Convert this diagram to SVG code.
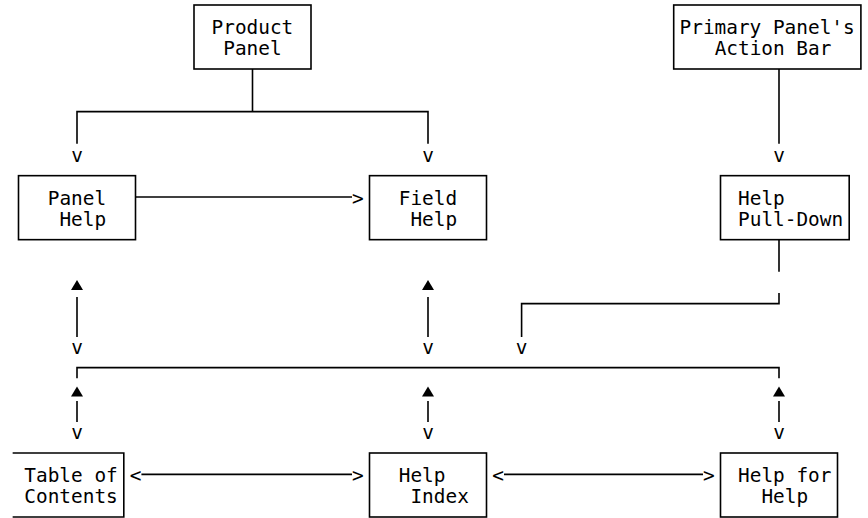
<svg xmlns="http://www.w3.org/2000/svg" width="868" height="518" viewBox="0 0 868 518">
<style>
.b{fill:none;stroke:#000;stroke-width:1.6}
.l{fill:none;stroke:#000;stroke-width:1.6}
.t{font-family:"DejaVu Sans Mono","Liberation Mono",monospace;font-size:19.4px;fill:#000}
.c{font-family:"DejaVu Sans Mono","Liberation Mono",monospace;font-size:19.4px;fill:#000;text-anchor:middle}
</style>
<defs>
<path id="tri" d="M-6,7.6 L6,7.6 L0,-2.4 Z" fill="#000"/>
</defs>
<rect width="868" height="518" fill="#fff"/>
<g id="connectors">
<path class="l" d="M252.5,69 V111.67 M77,143.67 V111.67 H428 V143.67"/>
<text class="c" x="77" y="161.8">v</text>
<text class="c" x="428" y="161.8">v</text>
<path class="l" d="M779,69 V143.67"/>
<text class="c" x="779" y="161.8">v</text>
<path class="l" d="M135.5,197 H352"/>
<text class="c" x="357.8" y="204.5">&gt;</text>
<use href="#tri" x="77" y="282.33"/>
<use href="#tri" x="428" y="282.33"/>
<path class="l" d="M77,297 V337 M428,297 V337"/>
<text class="c" x="77" y="353.8">v</text>
<text class="c" x="428" y="353.8">v</text>
<path class="l" d="M779,239.67 V271.67 M779,293 V303.67 H521.6 V337"/>
<text class="c" x="521.6" y="353.8">v</text>
<path class="l" d="M77,378.33 V367.67 H779 V378.33"/>
<use href="#tri" x="77" y="389"/>
<use href="#tri" x="428" y="389"/>
<use href="#tri" x="779" y="389"/>
<path class="l" d="M77,401 V422 M428,401 V422 M779,401 V422"/>
<text class="c" x="77" y="439.2">v</text>
<text class="c" x="428" y="439.2">v</text>
<text class="c" x="779" y="439.2">v</text>
<text class="c" x="135.5" y="481.8">&lt;</text>
<path class="l" d="M141.4,474.33 H352"/>
<text class="c" x="357.8" y="481.8">&gt;</text>
<text class="c" x="498.2" y="481.8">&lt;</text>
<path class="l" d="M504,474.33 H703"/>
<text class="c" x="708.8" y="481.8">&gt;</text>
</g>
<g id="product-panel">
<rect class="b" x="194" y="5" width="117" height="64"/>
<text class="t" x="211.55" y="33.8">Product</text>
<text class="t" x="223.25" y="55.2">Panel</text>
</g>
<g id="primary-action-bar">
<rect class="b" x="673.7" y="5" width="187.2" height="64"/>
<text class="t" x="679.55" y="33.8">Primary Panel's</text>
<text class="t" x="714.65" y="55.2">Action Bar</text>
</g>
<g id="panel-help">
<rect class="b" x="18.5" y="175.67" width="117" height="64"/>
<text class="t" x="47.75" y="204.5">Panel</text>
<text class="t" x="59.45" y="225.8">Help</text>
</g>
<g id="field-help">
<rect class="b" x="369.5" y="175.67" width="117" height="64"/>
<text class="t" x="398.75" y="204.5">Field</text>
<text class="t" x="410.45" y="225.8">Help</text>
</g>
<g id="help-pull-down">
<rect class="b" x="720.5" y="175.67" width="128.7" height="64"/>
<text class="t" x="738.05" y="204.5">Help</text>
<text class="t" x="738.05" y="225.8">Pull-Down</text>
</g>
<g id="table-of-contents">
<path class="b" d="M12.65,453 H123.8 V517 H12.65"/>
<text class="t" x="24.35" y="481.8">Table of</text>
<text class="t" x="24.35" y="503.1">Contents</text>
</g>
<g id="help-index">
<rect class="b" x="369.5" y="453" width="117" height="64"/>
<text class="t" x="398.75" y="481.8">Help</text>
<text class="t" x="410.45" y="503.1">Index</text>
</g>
<g id="help-for-help">
<rect class="b" x="720.5" y="453" width="117" height="64"/>
<text class="t" x="738.05" y="481.8">Help for</text>
<text class="t" x="761.45" y="503.1">Help</text>
</g>
</svg>
